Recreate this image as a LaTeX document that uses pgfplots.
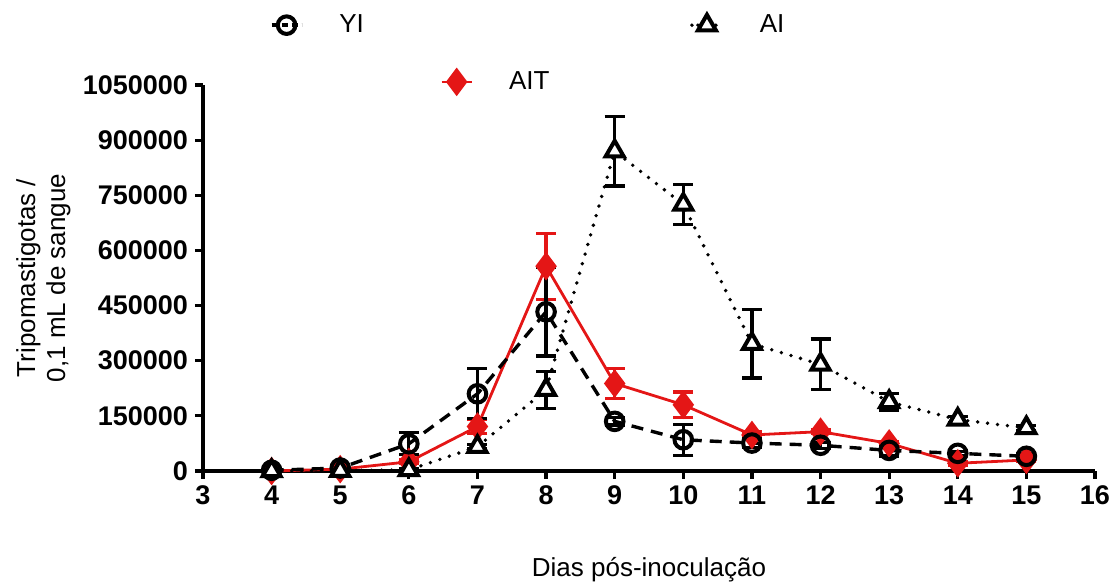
\documentclass[border=0pt]{standalone}
\usepackage{pgfplots}
\pgfplotsset{compat=1.18}
\usepackage{fontspec}
\setmainfont{Liberation Sans}
\definecolor{aitred}{RGB}{228,22,22}
\begin{document}
\begin{tikzpicture}
\useasboundingbox (0,0) rectangle (557.5pt,291.5pt);
\pgfplotsset{
  base/.style={
    at={(101.5pt,56pt)}, anchor=south west,
    scale only axis, width=446pt, height=193pt,
    xmin=3, xmax=16, ymin=0, ymax=1050000, clip=false,
  },
  leg/.style={
    legend style={draw=none, fill=none, inner sep=0pt, outer sep=0pt,
      font=\fontsize{13}{15}\selectfont, column sep=2pt,
      /tikz/every odd column/.style={column sep=16pt}},
    legend cell align=left,
    legend image code/.code={%
      \draw[mark repeat=2,mark phase=2] plot coordinates {(0pt,0pt) (7.5pt,0pt) (15pt,0pt)};},
  },
}
\begin{axis}[base,
  axis x line*=bottom, axis y line*=left,
  axis line style={-, line width=1.6pt},
  tick style={line width=1.6pt, black},
  tick align=outside, major tick length=4pt,
  xtick={3,4,...,16},
  ytick={0,150000,300000,450000,600000,750000,900000,1050000},
  yticklabels={0,150000,300000,450000,600000,750000,900000,1050000},
  scaled y ticks=false,
  /pgf/number format/assume math mode=true,
  ticklabel style={font=\fontsize{13.5}{16}\selectfont\bfseries},
  xlabel={Dias pós-inoculação},
  ylabel={Tripomastigotas /\\0,1 mL de sangue},
  every axis x label/.style={at={(axis description cs:0.5,-0.256)}, anchor=center, font=\fontsize{13}{15}\selectfont},
  every axis y label/.style={at={(axis description cs:-0.179,0.5)}, anchor=center, rotate=90, align=center, font=\fontsize{13}{15}\selectfont},
]
% AIT (red)
\addplot[aitred, line width=1.4pt, mark=diamond*, mark size=6pt,
  mark options={solid, fill=aitred, draw=aitred},
  error bars/.cd, y dir=both, y explicit,
  error bar style={aitred, line width=1.6pt},
  error mark options={rotate=90, mark size=5pt, line width=1.6pt, aitred}]
coordinates {
(4,0) +- (0,0)
(5,5000) +- (0,2000)
(6,25000) +- (0,5000)
(7,121000) +- (0,18000)
(8,557000) +- (0,90000)
(9,238000) +- (0,40000)
(10,180000) +- (0,35000)
(11,98000) +- (0,8000)
(12,107000) +- (0,6000)
(13,75000) +- (0,6000)
(14,21000) +- (0,5000)
(15,30000) +- (0,5000)
};
% YI (circles, dashed)
\addplot[black, line width=1.7pt, dash pattern=on 6pt off 4pt, mark=o, mark size=4.4pt,
  mark options={solid, line width=2pt},
  error bars/.cd, y dir=both, y explicit,
  error bar style={solid, black, line width=1.6pt},
  error mark options={rotate=90, mark size=5pt, line width=1.6pt}]
coordinates {
(4,2000) +- (0,0)
(5,8000) +- (0,3000)
(6,74000) +- (0,30000)
(7,210000) +- (0,68000)
(8,433000) +- (0,120000)
(9,135000) +- (0,10000)
(10,85000) +- (0,42000)
(11,76000) +- (0,12000)
(12,70000) +- (0,8000)
(13,56000) +- (0,15000)
(14,48000) +- (0,6000)
(15,40000) +- (0,8000)
};
% AI (triangles, dotted)
\addplot[black, line width=1.9pt, dash pattern=on 0pt off 5pt, line cap=round, mark=triangle*, mark size=5.2pt,
  mark options={solid, fill=white, line width=2pt, line cap=butt},
  error bars/.cd, y dir=both, y explicit,
  error bar style={solid, black, line width=1.6pt, line cap=butt},
  error mark options={rotate=90, mark size=5pt, line width=1.6pt}]
coordinates {
(4,0) +- (0,0)
(5,1000) +- (0,0)
(6,3000) +- (0,3000)
(7,66000) +- (0,5000)
(8,221000) +- (0,50000)
(9,870000) +- (0,95000)
(10,725000) +- (0,54000)
(11,346000) +- (0,93000)
(12,290000) +- (0,69000)
(13,188000) +- (0,22000)
(14,140000) +- (0,8000)
(15,117000) +- (0,6000)
};
\end{axis}
% legend axes
\begin{axis}[base, hide axis, leg,
  legend style={at={(axis description cs:0.075,1.155)}, anchor=west}]
\addlegendimage{black, line width=1.7pt, dash pattern=on 3pt off 2pt, mark=o, mark size=4.4pt, mark options={solid, line width=2pt}}
\addlegendentry{YI}
\end{axis}
\begin{axis}[base, hide axis, leg,
  legend style={at={(axis description cs:0.546,1.155)}, anchor=west}]
\addlegendimage{black, line width=1.9pt, dash pattern=on 0pt off 3pt, line cap=round, mark=triangle*, mark size=5.2pt, mark options={solid, fill=white, line width=2pt}}
\addlegendentry{AI}
\end{axis}
\begin{axis}[base, hide axis, leg,
  legend style={at={(axis description cs:0.266,1.008)}, anchor=west}]
\addlegendimage{aitred, line width=1.4pt, mark=diamond*, mark size=6pt, mark options={solid, fill=aitred}}
\addlegendentry{AIT}
\end{axis}
\end{tikzpicture}
\end{document}
